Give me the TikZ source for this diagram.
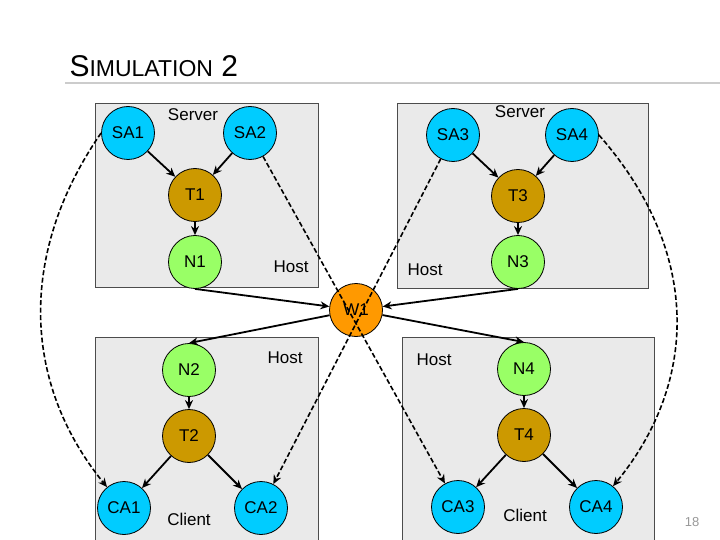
\documentclass[tikz,border=0pt]{standalone}
\usepackage{fontspec}
\setmainfont{Liberation Sans}
\usetikzlibrary{arrows.meta}
\definecolor{cyanc}{HTML}{00CCFF}
\definecolor{brownc}{HTML}{CC9900}
\definecolor{greenc}{HTML}{99FF66}
\definecolor{orangec}{HTML}{FF9900}
\definecolor{boxc}{HTML}{EAEAEA}
\begin{document}
\begin{tikzpicture}[x=1pt,y=-1pt,
  ball/.style={circle,draw=black,line width=0.8pt,minimum size=53pt,inner sep=0pt,font=\fontsize{17}{19}\selectfont},
  sa/.style={ball,fill=cyanc},
  tt/.style={ball,fill=brownc},
  nn/.style={ball,fill=greenc},
  ww/.style={ball,fill=orangec},
  hostbox/.style={fill=boxc,draw=black!70,line width=0.8pt},
  lbl/.style={font=\fontsize{17}{19}\selectfont},
  sarrow/.style={-{Stealth[length=9pt,width=8pt]},line width=1.8pt},
  darrow/.style={-{Stealth[length=9pt,width=8pt]},line width=1.6pt,dash pattern=on 5pt off 2.5pt}]
\useasboundingbox (0,0) rectangle (720,540);
\fill[white] (0,0) rectangle (720,540);
\node[anchor=west,font=\fontsize{30}{34}\selectfont] (title) at (66,66) {S{\fontsize{23}{26}\selectfont IMULATION} 2};
\draw[black!20,line width=1.5pt] (65,83) -- (720,83);
\draw[hostbox] (95,103) rectangle (318,287);
\draw[hostbox] (397,103) rectangle (648,288);
\draw[hostbox] (95,337) rectangle (318,545);
\draw[hostbox] (402,337) rectangle (654,545);
\node[lbl] (sv1) at (193,115) {Server};
\node[lbl] (sv2) at (520,112) {Server};
\node[lbl] (h1) at (291,267) {Host};
\node[lbl] (h2) at (425,270) {Host};
\node[lbl] (h3) at (285,358) {Host};
\node[lbl] (h4) at (434,360) {Host};
\node[lbl] (c1) at (189,519) {Client};
\node[lbl] (c2) at (525,515) {Client};
\node[font=\fontsize{13}{15}\selectfont,text=black!40] (pg) at (692,522) {18};
\node[sa] (SA1) at (128,133) {SA1};
\node[sa] (SA2) at (250,133) {SA2};
\node[tt] (T1) at (195,195) {T1};
\node[nn] (N1) at (195,262) {N1};
\node[sa] (SA3) at (453,135) {SA3};
\node[sa] (SA4) at (572,135) {SA4};
\node[tt] (T3) at (518,196) {T3};
\node[nn] (N3) at (518,262) {N3};
\node[nn] (N2) at (189,370) {N2};
\node[tt] (T2) at (189,436) {T2};
\node[sa] (CA1) at (124,508) {CA1};
\node[sa] (CA2) at (261,508) {CA2};
\node[nn] (N4) at (524,369) {N4};
\node[tt] (T4) at (524,435) {T4};
\node[sa] (CA3) at (458,507) {CA3};
\node[sa] (CA4) at (596,507) {CA4};
\node[ww] (W1) at (356,310) {W1};
\draw[sarrow] (SA1) -- (T1);
\draw[sarrow] (SA2) -- (T1);
\draw[sarrow] (T1) -- (N1);
\draw[sarrow] (SA3) -- (T3);
\draw[sarrow] (SA4) -- (T3);
\draw[sarrow] (T3) -- (N3);
\draw[sarrow] (N2) -- (T2);
\draw[sarrow] (T2) -- (CA1);
\draw[sarrow] (T2) -- (CA2);
\draw[sarrow] (N4) -- (T4);
\draw[sarrow] (T4) -- (CA3);
\draw[sarrow] (T4) -- (CA4);
\draw[sarrow] (N1.south) -- (W1);
\draw[sarrow] (N3.south) -- (W1);
\draw[sarrow] (W1) -- (N2.north);
\draw[sarrow] (W1) -- (N4.north);
\draw[darrow] (SA2) -- (CA3);
\draw[darrow] (SA3) -- (CA2);
\draw[darrow] (SA1.west) .. controls (20,250) and (20,380) .. (CA1);
\draw[darrow] (SA4.east) .. controls (700,250) and (700,380) .. (CA4);
\end{tikzpicture}
\end{document}
